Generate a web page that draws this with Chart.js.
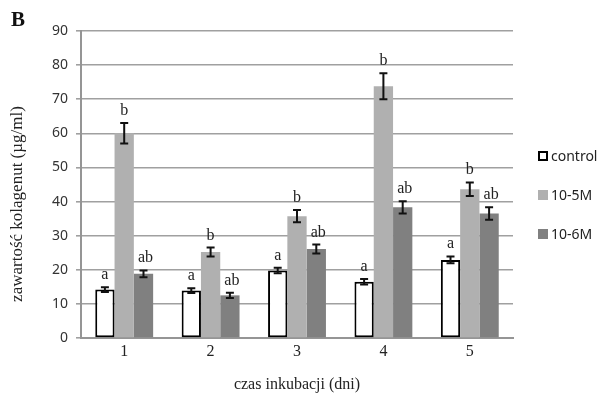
<!DOCTYPE html>
<html>
<head>
<meta charset="utf-8">
<script src="https://cdn.jsdelivr.net/npm/chart.js@4.4.0/dist/chart.umd.min.js"></script>
<style>
  html, body { margin: 0; padding: 0; background: #fff; }
  #wrap { position: relative; width: 598px; height: 398px; }
</style>
</head>
<body>
<div id="wrap"><canvas id="chart" width="598" height="398"></canvas></div>
<script>
// Values
const days = ['1', '2', '3', '4', '5'];
const seriesNames = ['control', '10-5M', '10-6M'];
const controlVals = [14.2, 13.9, 19.8, 16.5, 22.9];
const m5Vals = [60.0, 25.2, 35.7, 73.8, 43.6];
const m6Vals = [18.8, 12.5, 26.1, 38.3, 36.5];
const controlErr = [0.7, 0.7, 0.8, 0.8, 1.0];
const m5Err = [3.0, 1.3, 1.8, 3.8, 2.0];
const m6Err = [1.0, 0.8, 1.3, 1.8, 1.8];
const sigLetters = ['a', 'b', 'ab'];
const yTicks = [0, 10, 20, 30, 40, 50, 60, 70, 80, 90];

const errs = [controlErr, m5Err, m6Err];
const serif = "'Liberation Serif', 'DejaVu Serif', serif";
const sans = "'Noto Sans', 'Open Sans', sans-serif";

// error bars, letters, legend, y title and panel label
const extras = {
  id: 'extras',
  afterDatasetsDraw(chart) {
    const ctx = chart.ctx;
    const y = chart.scales.y;
    ctx.save();
    chart.data.datasets.forEach((ds, i) => {
      const meta = chart.getDatasetMeta(i);
      meta.data.forEach((bar, j) => {
        const v = ds.data[j];
        const e = errs[i][j];
        const top = y.getPixelForValue(v + e);
        const bot = y.getPixelForValue(v - e);
        ctx.strokeStyle = '#111';
        ctx.lineWidth = 2;
        ctx.beginPath();
        ctx.moveTo(bar.x, top); ctx.lineTo(bar.x, bot);
        ctx.moveTo(bar.x - 4, top); ctx.lineTo(bar.x + 4, top);
        ctx.moveTo(bar.x - 4, bot); ctx.lineTo(bar.x + 4, bot);
        ctx.stroke();
        ctx.fillStyle = '#222';
        ctx.font = '16px ' + serif;
        ctx.textAlign = 'center';
        ctx.textBaseline = 'alphabetic';
        ctx.fillText(sigLetters[i], bar.x + (i === 2 ? 2 : 0), top - 8);
      });
    });

    // legend
    ctx.font = '14px ' + sans;
    ctx.textAlign = 'left';
    ctx.textBaseline = 'middle';
    chart.data.datasets.forEach((ds, i) => {
      const cy = 156 + i * 39;
      if (i === 0) {
        ctx.fillStyle = '#fff';
        ctx.fillRect(539, cy - 4, 8, 8);
        ctx.strokeStyle = '#000';
        ctx.lineWidth = 2;
        ctx.strokeRect(539, cy - 4, 8, 8);
      } else {
        ctx.fillStyle = ds.backgroundColor;
        ctx.fillRect(538, cy - 5, 10, 10);
      }
      ctx.fillStyle = '#222';
      ctx.fillText(seriesNames[i], 551, cy + 1);
    });

    // y axis title
    ctx.save();
    ctx.translate(18, 204);
    ctx.rotate(-Math.PI / 2);
    ctx.textAlign = 'center';
    ctx.textBaseline = 'middle';
    ctx.font = '17px ' + serif;
    ctx.fillStyle = '#222';
    ctx.fillText('zawartość kolagenut (µg/ml)', 0, 0);
    ctx.restore();

    ctx.font = 'bold 21px ' + serif;
    ctx.fillStyle = '#111';
    ctx.fillText('B', 11, 21);
    ctx.restore();
  }
};

new Chart(document.getElementById('chart'), {
  type: 'bar',
  data: {
    labels: days,
    datasets: [
      { label: seriesNames[0], data: controlVals, backgroundColor: '#ffffff', borderColor: '#000000', borderWidth: 2, borderSkipped: false },
      { label: seriesNames[1], data: m5Vals, backgroundColor: '#b0b0b0', borderWidth: 0 },
      { label: seriesNames[2], data: m6Vals, backgroundColor: '#808080', borderWidth: 0 }
    ]
  },
  options: {
    responsive: false,
    animation: false,
    devicePixelRatio: 1,
    layout: { padding: { top: 31, right: 85, left: 0, bottom: 0 } },
    datasets: { bar: { categoryPercentage: 0.67, barPercentage: 1.0 } },
    plugins: { legend: { display: false }, tooltip: { enabled: false } },
    scales: {
      x: {
        grid: { display: false, drawTicks: false },
        border: { display: true, color: '#959595', width: 2 },
        ticks: { color: '#222', font: { family: serif, size: 16 }, padding: 4 },
        title: { display: true, text: 'czas inkubacji (dni)', color: '#222', font: { family: serif, size: 16 }, padding: { top: 0, bottom: 4 } },
        afterFit(scale) { scale.height = 60; }
      },
      y: {
        min: 0,
        max: 90,
        afterBuildTicks(scale) { scale.ticks = yTicks.map(v => ({ value: v })); },
        grid: { color: '#a0a0a0', lineWidth: 1.6, tickLength: 5 },
        border: { display: true, color: '#959595', width: 2 },
        ticks: { color: '#333', font: { family: sans, size: 14 }, padding: 8 },
        afterFit(scale) { scale.width = 81; }
      }
    }
  },
  plugins: [extras]
});
</script>
</body>
</html>
